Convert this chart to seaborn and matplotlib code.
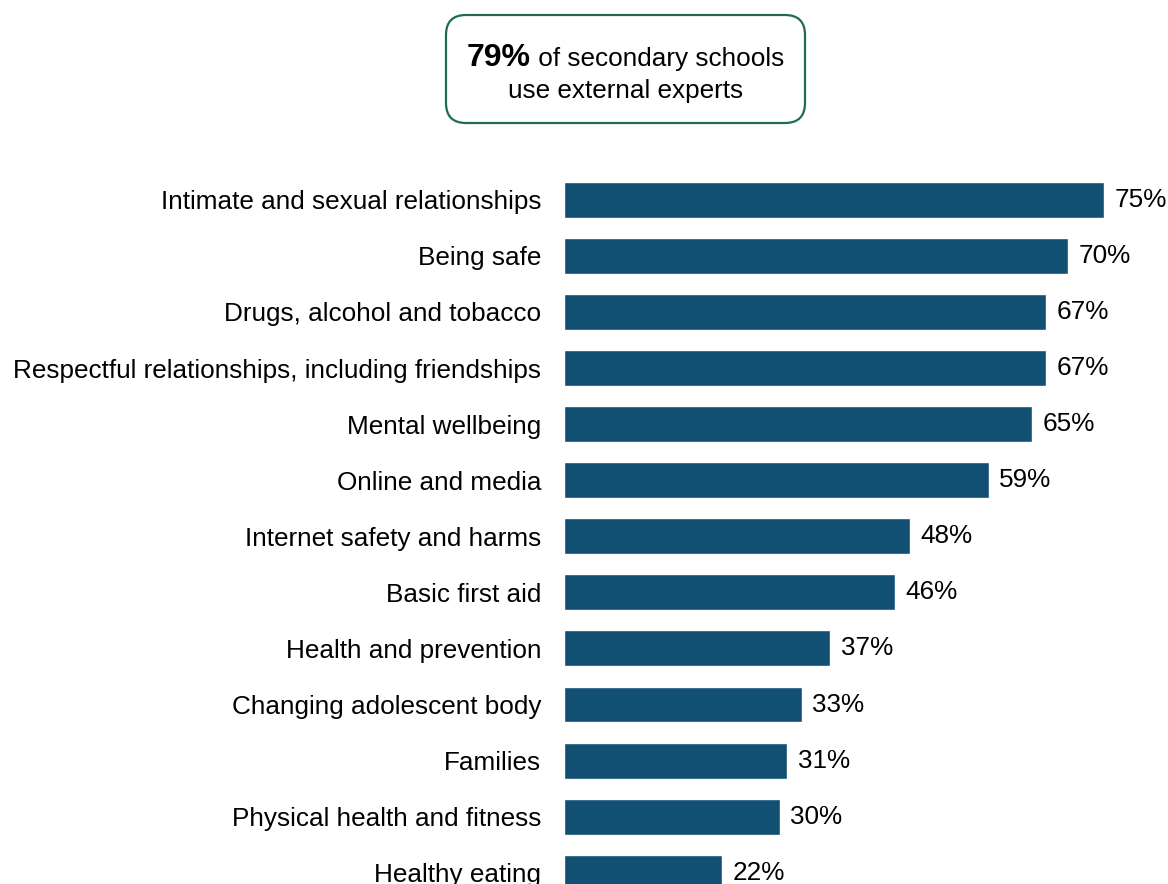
import matplotlib
matplotlib.use("Agg")
import matplotlib.pyplot as plt
from matplotlib.patches import FancyBboxPatch
from matplotlib.transforms import IdentityTransform
import seaborn as sns
import pandas as pd

topics = [
    "Intimate and sexual relationships",
    "Being safe",
    "Drugs, alcohol and tobacco",
    "Respectful relationships, including friendships",
    "Mental wellbeing",
    "Online and media",
    "Internet safety and harms",
    "Basic first aid",
    "Health and prevention",
    "Changing adolescent body",
    "Families",
    "Physical health and fitness",
    "Healthy eating",
]
shares = [75, 70, 67, 67, 65, 59, 48, 46, 37, 33, 31, 30, 22]
headline_value = "79%"
headline_rest = " of secondary schools"
headline_line2 = "use external experts"

BAR = "#114F73"
BORDER = "#1E6B58"
FONT = "Liberation Sans"

sns.set_theme(style="white")
plt.rcParams["font.family"] = [FONT, "DejaVu Sans"]

W, H, DPI = 1168, 884, 100
fig = plt.figure(figsize=(W / DPI, H / DPI), dpi=DPI)

ax_left, ax_top = 564, 171.7
ax = fig.add_axes([ax_left / W, 0, (W - ax_left) / W, (H - ax_top) / H])

df = pd.DataFrame({"topic": topics, "share": shares})
sns.barplot(data=df, y="topic", x="share", orient="h", color=BAR,
            saturation=1, width=0.64, ax=ax)

ax.set_xlim(0, (W - ax_left) / 7.2)
ax.set_ylim(12.2, -0.5)
ax.set_xlabel("")
ax.set_ylabel("")
ax.set_xticks([])
ax.tick_params(axis="y", length=0, pad=16.5, labelsize=18.8, labelcolor="black")
for s in ax.spines.values():
    s.set_visible(False)

ax.bar_label(ax.containers[0], labels=[f"{v}%" for v in shares],
             padding=7.5, fontsize=18.8, color="black")

# Headline callout box (pixel coordinates)
bx0, bx1, by0, by1 = 446, 805, 15, 123
box = FancyBboxPatch((bx0, H - by1), bx1 - bx0, by1 - by0,
                     boxstyle="round,pad=0,rounding_size=20",
                     transform=IdentityTransform(), facecolor="white",
                     edgecolor=BORDER, linewidth=1.6, zorder=5)
fig.patches.append(box)

renderer = fig.canvas.get_renderer()
cx = (bx0 + bx1) / 2
t1 = fig.text(0, 0, headline_value, fontsize=23, fontweight="bold",
              color="black", transform=IdentityTransform(), va="baseline", zorder=6)
t2 = fig.text(0, 0, headline_rest, fontsize=18.8, color="black",
              transform=IdentityTransform(), va="baseline", zorder=6)
w1 = t1.get_window_extent(renderer).width
w2 = t2.get_window_extent(renderer).width
start = cx - (w1 + w2) / 2
base1 = H - 66
t1.set_position((start, base1))
t2.set_position((start + w1, base1))
fig.text(cx, H - 98, headline_line2, fontsize=18.8, color="black",
         transform=IdentityTransform(), ha="center", va="baseline", zorder=6)

fig.savefig("out.png", dpi=DPI)
